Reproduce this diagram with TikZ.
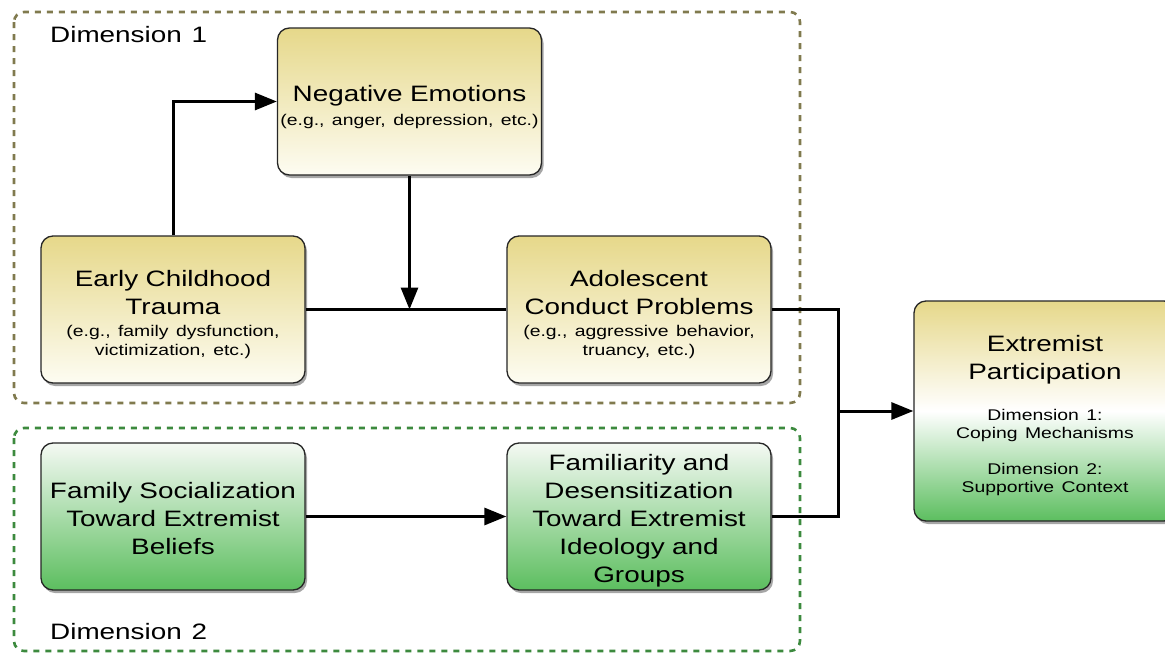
\documentclass[tikz,border=0pt]{standalone}
\usepackage{fontspec}
\setmainfont{Liberation Sans}[FakeStretch=1.25, WordSpace=1.25]
\usetikzlibrary{arrows.meta,shadows}
\definecolor{yelltop}{RGB}{230,216,138}
\definecolor{yellbot}{RGB}{253,252,242}
\definecolor{greentop}{RGB}{244,249,243}
\definecolor{greenbot}{RGB}{92,190,95}
\definecolor{olivedash}{RGB}{128,122,78}
\definecolor{greendash}{RGB}{60,138,62}
\newcommand\mainsz{\fontsize{22.3}{28}\selectfont}
\newcommand\smallsz{\fontsize{15.5}{20}\selectfont}
\newcommand\topstrut[1]{\rule{0pt}{#1}}
\tikzset{
  box/.style={draw=black!85, line width=1.3pt, rounded corners=12pt,
    minimum width=264pt, minimum height=147pt, inner sep=0pt,
    align=center, text width=260pt, font=\mainsz,
    drop shadow={shadow xshift=2pt, shadow yshift=-3pt, opacity=0.35, fill=black}},
  ybox/.style={box, top color=yelltop, bottom color=yellbot},
  gbox/.style={box, top color=greentop, bottom color=greenbot},
  dimbox/.style={line width=2.6pt, dash pattern=on 6pt off 6pt, rounded corners=10pt},
  conn/.style={line width=3pt, black},
  arr/.style={conn, -{Triangle[length=22pt,width=17pt]}},
  dimlabel/.style={anchor=west, inner sep=0pt, font=\mainsz}
}
\begin{document}
\begin{tikzpicture}[x=1pt,y=-1pt]
\useasboundingbox (0,0) rectangle (1165,653);
\fill[white] (0,0) rectangle (1165,653);
% dimension frames
\draw[dimbox, olivedash] (14,12) rectangle (800,403);
\draw[dimbox, greendash] (14,428) rectangle (800,651);
\node[dimlabel] (d1) at (50,35) {Dimension 1};
\node[dimlabel] (d2) at (50,632) {Dimension 2};
% boxes
\node[ybox] (neg) at (409.5,101.5) {\topstrut{28pt}Negative Emotions\\[-4pt]{\smallsz (e.g., anger, depression, etc.)}};
\node[ybox] (trauma) at (173,309.5) {\topstrut{27pt}Early Childhood\\Trauma\\[-6pt]{\smallsz (e.g., family dysfunction,}\\[-9pt]{\smallsz victimization, etc.)}};
\node[ybox] (adol) at (639,309.5) {\topstrut{27pt}Adolescent\\Conduct Problems\\[-6pt]{\smallsz (e.g., aggressive behavior,}\\[-9pt]{\smallsz truancy, etc.)}};
\node[gbox] (famsoc) at (173,516.5) {\topstrut{20pt}Family Socialization\\Toward Extremist\\Beliefs};
\node[gbox] (famil) at (639,516.5) {\topstrut{24pt}Familiarity and\\Desensitization\\Toward Extremist\\Ideology and\\Groups};
\node[box, minimum width=262pt, minimum height=220pt, text width=258pt,
      top color=yelltop, bottom color=greenbot, middle color=white] (ext) at (1045,411)
  {\topstrut{26pt}Extremist\\Participation\\[13pt]{\smallsz Dimension 1:}\\[-10pt]{\smallsz Coping Mechanisms}\\[8pt]{\smallsz Dimension 2:}\\[-10pt]{\smallsz Supportive Context}};
% connectors
\coordinate (jn) at (neg.south |- trauma.east);
\coordinate (jx) at (838,411);
\draw[arr] (trauma.north) |- (neg.west);
\draw[conn] (trauma.east) -- (adol.west);
\draw[arr] (neg.south) -- (jn);
\draw[arr] (famsoc.east) -- (famil.west);
\draw[conn] (adol.east) -| (jx);
\draw[conn] (famil.east) -| (jx);
\draw[arr] (jx) -- (ext.west);
\end{tikzpicture}
\end{document}
